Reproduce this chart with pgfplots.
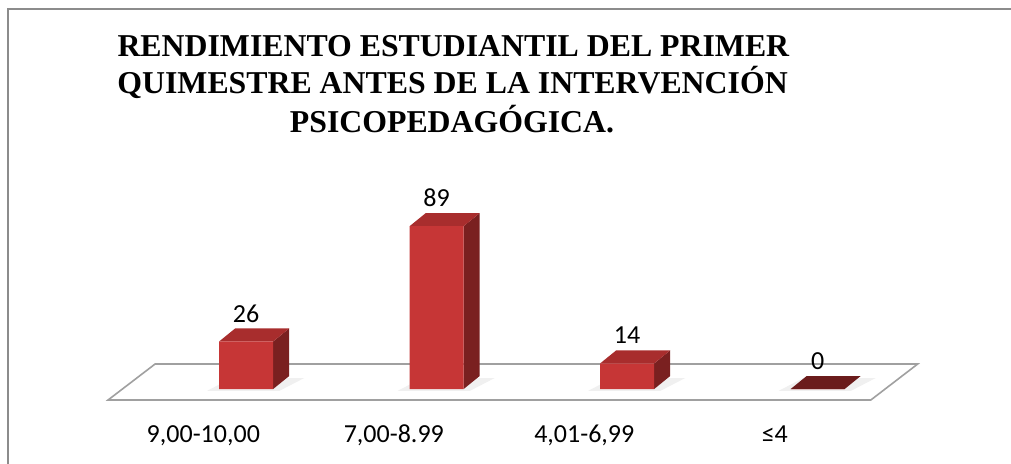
\documentclass[border=0pt]{standalone}
\usepackage{pgfplots}
\pgfplotsset{compat=1.18}
\usepackage{fontspec}
\setmainfont{Carlito}
\newfontfamily\titlefont{Liberation Serif}
\definecolor{frontc}{HTML}{C63636}
\definecolor{frontt}{HTML}{D34040}
\definecolor{topc}{HTML}{A82D2D}
\definecolor{sidec}{HTML}{7A2020}
\definecolor{zeroc}{HTML}{6B1C1C}
\definecolor{framec}{HTML}{8C8C8C}
\definecolor{floorc}{HTML}{A0A0A0}
\begin{document}
\begin{tikzpicture}
\useasboundingbox (0,0) rectangle (505.5pt,231.5pt);
\fill[white] (0,0) rectangle (505.5pt,231.5pt);
\draw[framec, line width=1pt] (4.2pt,-5pt) -- (4.2pt,227pt) -- (520pt,227pt);
\begin{axis}[
  at={(0,0)}, anchor=south west,
  scale only axis, width=505.5pt, height=231.5pt,
  xmin=-1.0672, xmax=4.2399, ymin=-40.44, ymax=212.57,
  clip=false,
  axis line style={draw=none},
  tick style={draw=none},
  ytick=\empty,
  xtick={0,1,2,3},
  xticklabels={{9,00-10,00},{7,00-8.99},{4,01-6,99},{≤4}},
  xticklabel style={font=\fontsize{13}{15}\selectfont, anchor=base, yshift=10.5pt},
  /pgf/number format/assume math mode=true,
]
% floor
\draw[floorc, line width=0.8pt, fill=white]
  (axis cs:-0.5,-6.01) -- (axis cs:3.504,-6.01) -- (axis cs:3.75,13.66) -- (axis cs:-0.253,13.66) -- cycle;
% shadows
\addplot[draw=none, fill=black, opacity=0.06] coordinates {(0.02,-1) (0.40,-1) (0.53,6) (0.15,6)} -- cycle;
\addplot[draw=none, fill=black, opacity=0.06] coordinates {(1.02,-1) (1.40,-1) (1.53,6) (1.15,6)} -- cycle;
\addplot[draw=none, fill=black, opacity=0.06] coordinates {(2.02,-1) (2.40,-1) (2.53,6) (2.15,6)} -- cycle;
\addplot[draw=none, fill=black, opacity=0.06] coordinates {(3.02,-1) (3.40,-1) (3.53,6) (3.15,6)} -- cycle;
% side faces
\addplot[draw=none, fill=sidec] coordinates {(0.3667,0) (0.4507,7.1) (0.4507,33.1) (0.3667,26)} -- cycle;
\addplot[draw=none, fill=sidec] coordinates {(1.3667,0) (1.4507,7.1) (1.4507,96.1) (1.3667,89)} -- cycle;
\addplot[draw=none, fill=sidec] coordinates {(2.3667,0) (2.4507,7.1) (2.4507,21.1) (2.3667,14)} -- cycle;
% top faces
\addplot[draw=none, fill=topc] coordinates {(0.0833,26) (0.3667,26) (0.4507,33.1) (0.1673,33.1)} -- cycle;
\addplot[draw=none, fill=topc] coordinates {(1.0833,89) (1.3667,89) (1.4507,96.1) (1.1673,96.1)} -- cycle;
\addplot[draw=none, fill=topc] coordinates {(2.0833,14) (2.3667,14) (2.4507,21.1) (2.1673,21.1)} -- cycle;
\addplot[draw=none, fill=zeroc] coordinates {(3.0833,0) (3.3667,0) (3.4507,7.1) (3.1673,7.1)} -- cycle;
% front faces
\addplot[ybar, bar width=27pt, draw=none, fill=frontc,
  nodes near coords,
  nodes near coords style={font=\fontsize{13}{15}\selectfont, text=black, anchor=center, yshift=14pt}]
  coordinates {(0.225,26) (1.225,89) (2.225,14) (3.225,0)};
\end{axis}
\node[anchor=base, inner sep=0, font=\titlefont\bfseries\fontsize{15.9}{18.7}\selectfont] at (226.7pt,203.5pt) {RENDIMIENTO ESTUDIANTIL DEL PRIMER};
\node[anchor=base, inner sep=0, font=\titlefont\bfseries\fontsize{15.9}{18.7}\selectfont] at (226.3pt,185pt) {QUIMESTRE ANTES DE LA INTERVENCIÓN};
\node[anchor=base, inner sep=0, font=\titlefont\bfseries\fontsize{15.9}{18.7}\selectfont] at (226pt,165.5pt) {PSICOPEDAGÓGICA.};
\end{tikzpicture}
\end{document}
